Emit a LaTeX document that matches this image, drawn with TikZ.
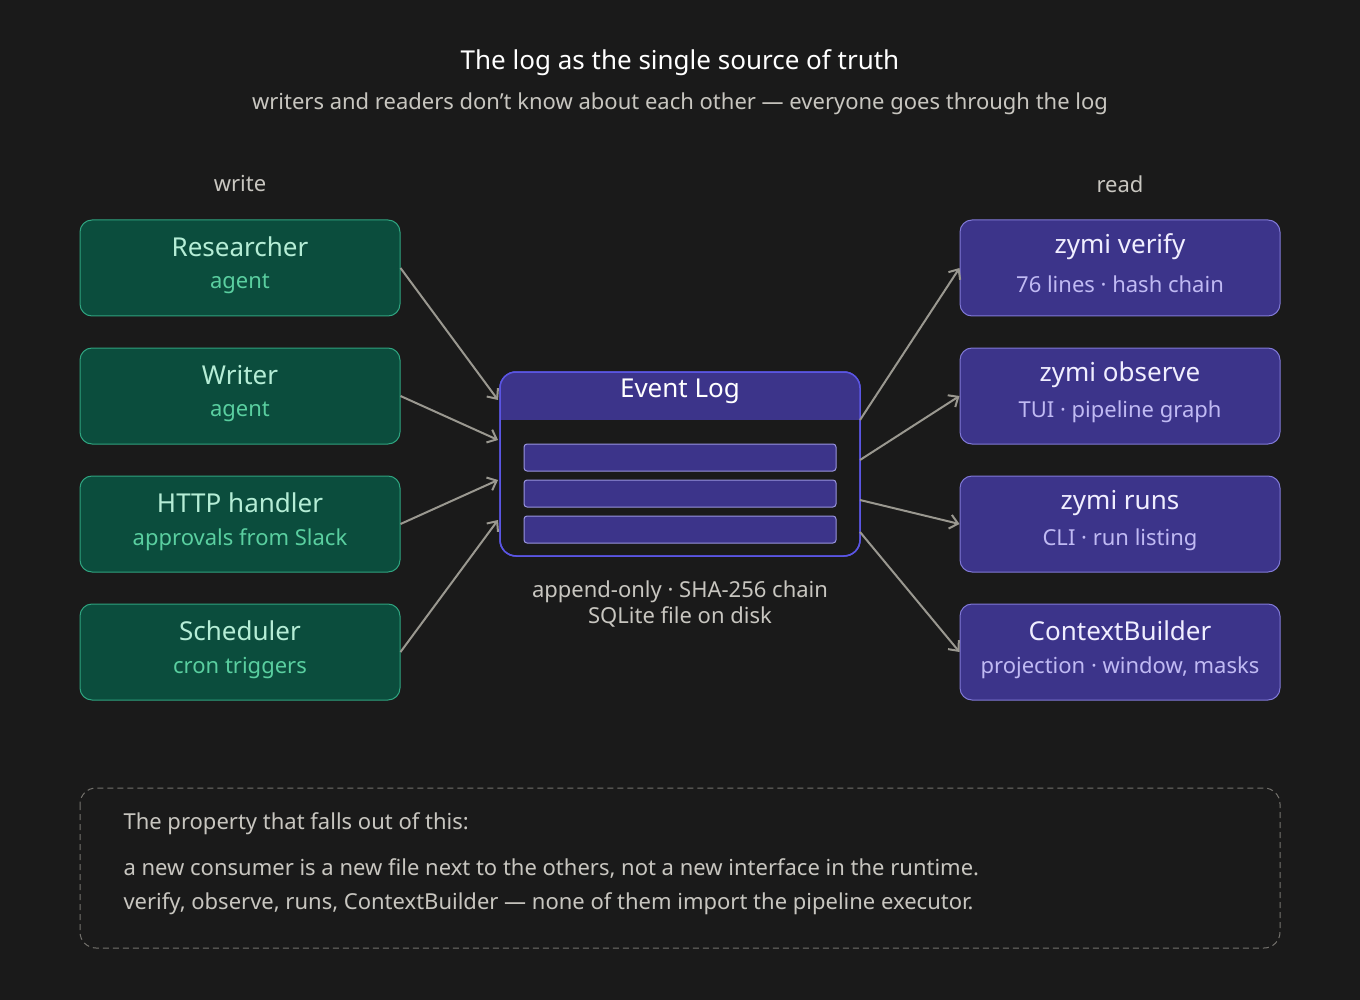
\documentclass[tikz,border=0pt]{standalone}
\usepackage{fontspec}
\setmainfont{Noto Sans}
\usetikzlibrary{arrows.meta}
\definecolor{bg}{HTML}{1A1A1A}
\definecolor{gfill}{HTML}{0B4D3D}
\definecolor{gline}{HTML}{2FA37F}
\definecolor{gtitle}{HTML}{B5EDD6}
\definecolor{gsub}{HTML}{5ACFA0}
\definecolor{pfill}{HTML}{3C348A}
\definecolor{pline}{HTML}{8079D6}
\definecolor{ptitle}{HTML}{F0EEFF}
\definecolor{psub}{HTML}{C0BAF3}
\definecolor{arr}{HTML}{9A9890}
\definecolor{txt}{HTML}{C8C6C0}
\begin{document}
\begin{tikzpicture}[x=1pt,y=-1pt,
  box/.style={rounded corners=12pt,line width=1pt,minimum width=320pt,minimum height=96pt,inner sep=0pt},
  wbox/.style={box,fill=gfill,draw=gline},
  rbox/.style={box,fill=pfill,draw=pline},
  conn/.style={draw=arr,line width=2pt,-{Straight Barb[length=8pt,width=14pt]}},
  row/.style={fill=pfill,draw=pline!80!white,line width=1pt,rounded corners=3pt,minimum width=312pt,minimum height=27pt,inner sep=0pt}]
\fill[bg] (0,0) rectangle (1360,1000);
\useasboundingbox (0,0) rectangle (1360,1000);
\node[text=white,font=\fontsize{26}{30}\selectfont] (title) at (680,63) {The log as the single source of truth};
\node[text=txt,font=\fontsize{22}{26}\selectfont] (sub) at (680,104) {writers and readers don't know about each other — everyone goes through the log};
\node[text=txt,font=\fontsize{22}{26}\selectfont] (wl) at (240,184) {write};
\node[text=txt,font=\fontsize{22}{26}\selectfont] (rl) at (1120,184) {read};
\newcommand{\wnode}[4]{\node[wbox] (#1) at (240,#2) {};
 \node[text=gtitle,font=\fontsize{26}{30}\selectfont] at (240,#2-21) {#3};
 \node[text=gsub,font=\fontsize{22}{26}\selectfont] at (240,#2+16) {#4};}
\newcommand{\rnode}[4]{\node[rbox] (#1) at (1120,#2) {};
 \node[text=ptitle,font=\fontsize{26}{30}\selectfont] at (1120,#2-21) {#3};
 \node[text=psub,font=\fontsize{22}{26}\selectfont] at (1120,#2+16) {#4};}
\wnode{w1}{268}{Researcher}{agent}
\wnode{w2}{396}{Writer}{agent}
\wnode{w3}{524}{HTTP handler}{approvals from Slack}
\wnode{w4}{652}{Scheduler}{cron triggers}
\rnode{r1}{268}{zymi verify}{76 lines · hash chain}
\rnode{r2}{396}{zymi observe}{TUI · pipeline graph}
\rnode{r3}{524}{zymi runs}{CLI · run listing}
\rnode{r4}{652}{ContextBuilder}{projection · window, masks}
% event log
\node[draw=pline!70!blue,line width=1.5pt,fill=bg,rounded corners=16pt,minimum width=360pt,minimum height=184pt,inner sep=0pt] (log) at (680,464) {};
\begin{scope}
\clip[rounded corners=16pt] (500,372) rectangle (860,556);
\fill[pfill] (500,372) rectangle (860,420);
\end{scope}
\draw[draw=pline!70!blue,line width=1.5pt,rounded corners=16pt] (500,372) rectangle (860,556);
\node[text=white,font=\fontsize{26}{30}\selectfont] (lt) at (680,391) {Event Log};
\node[row] (e1) at (680,457.5) {};
\node[row] (e2) at (680,493.5) {};
\node[row] (e3) at (680,529.5) {};
\node[text=txt,font=\fontsize{22}{26}\selectfont,align=center] (cap) at (680,604) {append-only · SHA-256 chain\\SQLite file on disk};
\coordinate (i1) at (498,400); \coordinate (i2) at (498,440);
\coordinate (i3) at (498,480); \coordinate (i4) at (498,520);
\coordinate (o1) at (860,420); \coordinate (o2) at (860,460);
\coordinate (o3) at (860,500); \coordinate (o4) at (860,532);
\draw[conn] (w1.east) -- (i1);
\draw[conn] (w2.east) -- (i2);
\draw[conn] (w3.east) -- (i3);
\draw[conn] (w4.east) -- (i4);
\draw[conn] (o1) -- (r1.west);
\draw[conn] (o2) -- (r2.west);
\draw[conn] (o3) -- (r3.west);
\draw[conn] (o4) -- (r4.west);
% note
\draw[draw=arr!70!bg,line width=1pt,dash pattern=on 6pt off 4pt,rounded corners=16pt] (80,788) rectangle (1280,948);
\node[text=txt,font=\fontsize{22}{26}\selectfont,anchor=west] (n1) at (120,824) {The property that falls out of this:};
\node[text=txt,font=\fontsize{22}{26}\selectfont,anchor=west] (n2) at (120,868) {a new consumer is a new file next to the others, not a new interface in the runtime.};
\node[text=txt,font=\fontsize{22}{26}\selectfont,anchor=west] (n3) at (120,904) {verify, observe, runs, ContextBuilder — none of them import the pipeline executor.};
\end{tikzpicture}
\end{document}
